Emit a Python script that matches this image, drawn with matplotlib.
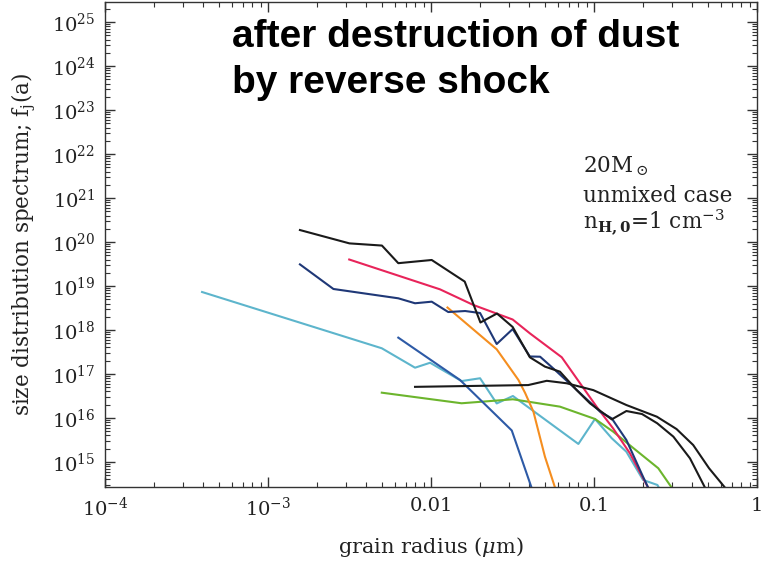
import numpy as np
import matplotlib
matplotlib.use('Agg')
import matplotlib.pyplot as plt
from matplotlib.ticker import LogLocator, FixedLocator, FixedFormatter, NullFormatter

plt.rcParams['font.family'] = 'DejaVu Serif'
plt.rcParams['mathtext.fontset'] = 'dejavuserif'

# size distribution curves, grain radius (um) vs f_j(a)
black1_a = [1.57e-3, 3.16e-3, 5.0e-3, 6.3e-3, 0.0101, 0.0161, 0.0201, 0.0254, 0.0317, 0.0404,
            0.050, 0.0618, 0.0783, 0.0944, 0.1285, 0.158, 0.197, 0.244, 0.307, 0.388, 0.48]
black1_f = [1.87e20, 9.3e19, 8.3e19, 3.3e19, 3.9e19, 1.26e19, 1.48e18, 2.37e18, 1.17e18, 2.4e17,
            1.47e17, 1.13e17, 4.3e16, 2.16e16, 9.3e15, 1.44e16, 1.23e16, 7.6e15, 3.76e15, 1.21e15, 2.6e14]

navy_a = [1.57e-3, 2.52e-3, 6.3e-3, 7.98e-3, 0.0101, 0.01276, 0.0162, 0.0200, 0.0253, 0.0317,
          0.0404, 0.0467, 0.0577, 0.082, 0.109, 0.1285, 0.158, 0.2, 0.215]
navy_f = [3.1e19, 8.55e18, 5.25e18, 4.05e18, 4.4e18, 2.56e18, 2.7e18, 2.43e18, 4.8e17, 1.05e18,
          2.5e17, 2.47e17, 1.23e17, 3.7e16, 1.39e16, 9.8e15, 3.16e15, 4.6e14, 2.6e14]

red_a = [3.15e-3, 0.01135, 0.0182, 0.0317, 0.0404, 0.0634, 0.082, 0.104, 0.131, 0.166, 0.215]
red_f = [4.0e19, 8.4e18, 3.7e18, 1.73e18, 8.4e17, 2.4e17, 6.2e16, 1.78e16, 5.8e15, 1.58e15, 2.6e14]

orange_a = [0.01262, 0.0253, 0.0344, 0.0378, 0.0425, 0.050, 0.0577]
orange_f = [3.24e18, 3.64e17, 7.3e16, 3.7e16, 1.39e16, 1.32e15, 2.6e14]

ltblue_a = [3.94e-4, 4.99e-3, 7.98e-3, 9.87e-3, 0.0154, 0.0200, 0.0253, 0.0318, 0.0802, 0.1014,
            0.1285, 0.158, 0.2, 0.245, 0.26]
ltblue_f = [7.3e18, 3.84e17, 1.39e17, 1.8e17, 6.9e16, 8.0e16, 2.14e16, 3.16e16, 2.57e15, 9.5e15,
            3.46e15, 1.71e15, 3.9e14, 3.0e14, 2.0e14]

medblue_a = [6.3e-3, 0.01507, 0.0313, 0.0414]
medblue_f = [6.7e17, 7.3e16, 5.2e15, 2.6e14]

green_a = [4.99e-3, 0.0154, 0.0318, 0.0618, 0.1014, 0.131, 0.174, 0.248, 0.30]
green_f = [3.76e16, 2.16e16, 2.66e16, 1.81e16, 9.5e15, 4.9e15, 2.08e15, 7.2e14, 2.6e14]

black2_a = [7.98e-3, 0.0395, 0.0513, 0.068, 0.099, 0.158, 0.243, 0.321, 0.406, 0.508, 0.637]
black2_f = [5.1e16, 5.6e16, 7.0e16, 6.15e16, 4.3e16, 1.97e16, 1.07e16, 5.6e15, 2.43e15, 7.2e14, 2.6e14]

xticks = [1e-4, 1e-3, 0.01, 0.1, 1]
xticklabels = [r'$10^{-4}$', r'$10^{-3}$', '0.01', '0.1', '1']
yticks = [10.0**k for k in range(15, 26)]
yticklabels = [r'$10^{%d}$' % k for k in range(15, 26)]

fig = plt.figure(figsize=(7.69, 5.69), dpi=100)
ax = fig.add_axes([105/769, 1-487/569, 652/769, 485/569])

lw = 1.5
ax.plot(ltblue_a, ltblue_f, color='#5db5cc', lw=lw)
ax.plot(green_a, green_f, color='#6cb52d', lw=lw)
ax.plot(medblue_a, medblue_f, color='#2d5aa6', lw=lw)
ax.plot(orange_a, orange_f, color='#f58e1f', lw=lw)
ax.plot(red_a, red_f, color='#e8245a', lw=lw)
ax.plot(navy_a, navy_f, color='#1f3877', lw=lw)
ax.plot(black2_a, black2_f, color='#1a1a1a', lw=lw)
ax.plot(black1_a, black1_f, color='#1a1a1a', lw=lw)

ax.set_xscale('log')
ax.set_yscale('log')
ax.set_xlim(1e-4, 1)
ax.set_ylim(2.7e14, 2.85e25)

ax.xaxis.set_major_locator(FixedLocator(xticks))
ax.xaxis.set_major_formatter(FixedFormatter(xticklabels))
ax.yaxis.set_major_locator(FixedLocator(yticks))
ax.yaxis.set_major_formatter(FixedFormatter(yticklabels))
ax.xaxis.set_minor_locator(LogLocator(base=10, subs=np.arange(2, 10), numticks=20))
ax.yaxis.set_minor_locator(LogLocator(base=10, subs=np.arange(2, 10), numticks=30))
ax.xaxis.set_minor_formatter(NullFormatter())
ax.yaxis.set_minor_formatter(NullFormatter())

ax.tick_params(which='both', direction='in', top=True, right=True, colors='#333333', labelcolor='#222222')
ax.tick_params(which='major', length=7, width=1, labelsize=14, pad=7)
ax.tick_params(which='minor', length=3.5, width=0.8)
for s in ax.spines.values():
    s.set_color('#333333')
    s.set_linewidth(1.0)

ax.set_xlabel(r'grain radius ($\mu$m)', fontsize=15, color='#222222', labelpad=11)
ax.set_ylabel(r'size distribution spectrum; f$_\mathrm{j}$(a)', fontsize=15.5, color='#222222', labelpad=10)

# case labels
fig.text(583/769, 1-172/569, r'20$\mathrm{M}_\odot$', fontsize=15.5, color='#222222', va='baseline')
fig.text(583/769, 1-202/569, 'unmixed case', fontsize=15.5, color='#222222', va='baseline')
fig.text(583/769, 1-230/569, r'n$_{\mathbf{H,0}}$=1 cm$^{-3}$', fontsize=15.5, color='#222222', va='baseline')

# heading
fig.text(232/769, 1-47/569, 'after destruction of dust', fontsize=28, fontweight='bold',
         family='Liberation Sans', va='baseline')
fig.text(232/769, 1-93/569, 'by reverse shock', fontsize=28, fontweight='bold',
         family='Liberation Sans', va='baseline')

plt.savefig('out.png', dpi=100)
